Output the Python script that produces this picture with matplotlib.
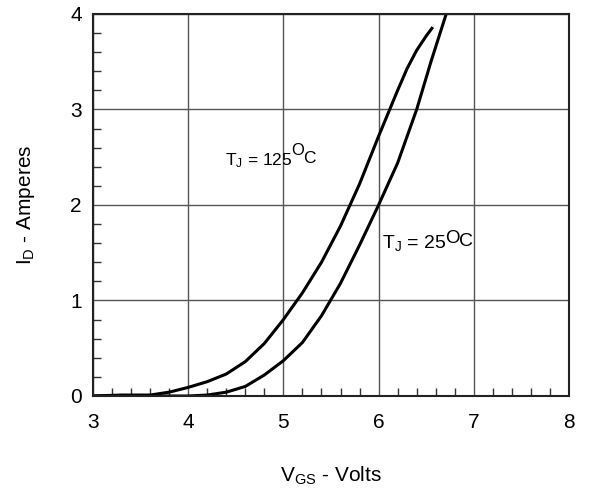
import numpy as np
import matplotlib.pyplot as plt
from matplotlib.ticker import MultipleLocator

plt.rcParams['font.family'] = ['Liberation Sans', 'DejaVu Sans']
plt.rcParams['mathtext.fontset'] = 'custom'
plt.rcParams['mathtext.rm'] = 'Liberation Sans'
plt.rcParams['mathtext.it'] = 'Liberation Sans'
plt.rcParams['mathtext.default'] = 'regular'

# T_J = 125 C curve
vgs_125 = [3.0, 3.3, 3.6, 3.8, 4.0, 4.2, 4.4, 4.6, 4.8, 5.0, 5.2, 5.4, 5.6, 5.8,
           6.0, 6.1, 6.2, 6.3, 6.4, 6.5, 6.56]
id_125 = [0.0, 0.01, 0.01, 0.04, 0.09, 0.15, 0.23, 0.36, 0.55, 0.8, 1.08, 1.4, 1.78, 2.22,
          2.72, 2.96, 3.2, 3.43, 3.62, 3.77, 3.85]

# T_J = 25 C curve
vgs_25 = [3.0, 3.5, 4.0, 4.2, 4.4, 4.6, 4.8, 5.0, 5.2, 5.4, 5.6, 5.8, 6.0, 6.2, 6.4, 6.55, 6.71, 6.75]
id_25 = [0.0, 0.0, 0.0, 0.01, 0.04, 0.1, 0.22, 0.37, 0.56, 0.84, 1.18, 1.58, 2.0, 2.44, 3.0, 3.5, 4.0, 4.1]

fig = plt.figure(figsize=(5.9, 4.91), dpi=100)
ax = fig.add_axes([0.1576, 0.1935, 0.8068, 0.778])

ax.plot(vgs_125, id_125, color='black', lw=2.2)
ax.plot(vgs_25, id_25, color='black', lw=2.2)

ax.set_xlim(3, 8)
ax.set_ylim(0, 4)
ax.xaxis.set_major_locator(MultipleLocator(1))
ax.yaxis.set_major_locator(MultipleLocator(1))
ax.xaxis.set_minor_locator(MultipleLocator(0.2))
ax.yaxis.set_minor_locator(MultipleLocator(0.2))
ax.grid(True, which='major', color='#555555', lw=1.0)
ax.tick_params(which='both', direction='in', labelsize=15, color='#333333')
ax.tick_params(which='major', length=0)
ax.tick_params(axis='x', which='major', pad=12)
ax.tick_params(axis='y', which='major', pad=8)
ax.tick_params(which='minor', length=6, width=1.0)
for s in ax.spines.values():
    s.set_linewidth(1.5)
    s.set_color('#222222')

ax.set_xlabel('$V_{GS}$ - Volts', fontsize=15, labelpad=24)
ax.set_ylabel('$I_D$ - Amperes', fontsize=15, labelpad=24)

# temperature labels, superscript O drawn as its own text
def temp_label(x, y, num, size, rise):
    t = ax.text(x, y, '$T_J$ = ' + num, fontsize=size, va='baseline')
    o = ax.annotate('O', xy=(1, 1), xycoords=t, xytext=(-1, rise),
                    textcoords='offset points', fontsize=size - 0.5, va='top')
    ax.annotate('C', xy=(1, 1), xycoords=(o, t), xytext=(-0.5, 0),
                textcoords='offset points', fontsize=size, va='top')

temp_label(4.39, 2.42, '125', 12.5, 6)
temp_label(6.035, 1.55, '25', 14, 2)

fig.savefig('out.png', dpi=100)
